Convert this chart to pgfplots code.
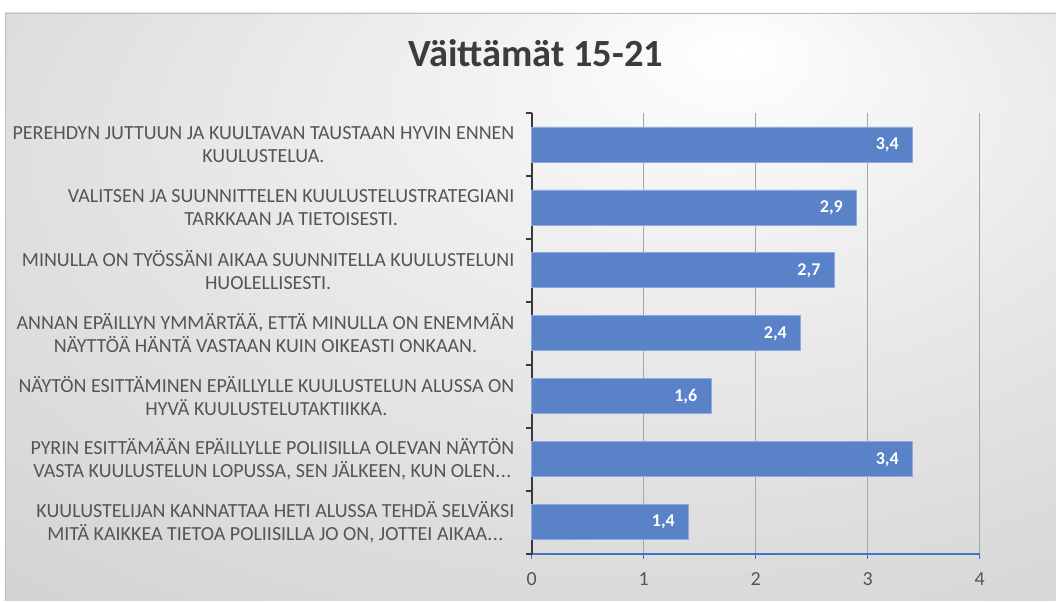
\documentclass[border=0pt]{standalone}
\usepackage{fontspec}
\setmainfont{Carlito}
\usepackage{pgfplots}
\pgfplotsset{compat=1.18}
\definecolor{barblue}{HTML}{5A82C8}
\definecolor{baredge}{HTML}{8FAADC}
\definecolor{axblue}{HTML}{4472C4}
\definecolor{txtgray}{HTML}{555555}
\definecolor{ttlgray}{HTML}{3C3C3C}
\definecolor{gridgray}{HTML}{A6A6A6}
\definecolor{yaxis}{HTML}{3A3A3A}
\definecolor{bgA}{HTML}{F3F3F3}
\definecolor{bgB}{HTML}{E1E1E1}
\definecolor{bgC}{HTML}{D2D2D2}
\definecolor{bgD}{HTML}{C8C8C8}
\pgfdeclareradialshading{chartbg}{\pgfpoint{10bp}{22bp}}{color(0bp)=(white); color(10bp)=(bgA); color(28bp)=(bgB); color(45bp)=(bgC); color(70bp)=(bgD)}
\pgfkeys{/pgf/number format/assume math mode=true}
\newcommand{\elli}{.\kern0.5pt.\kern0.5pt.}
\pgfplotstableread{
y val
0 1.4
1 3.4
2 1.6
3 2.4
4 2.7
5 2.9
6 3.4
}\datatable
\begin{document}
\begin{tikzpicture}[x=1bp,y=1bp]
\fill[white] (0,0) rectangle (1056,601);
\shade[shading=chartbg] (5,0) rectangle (1056,588);
\draw[color=black!25, line width=0.8bp] (5,0) -- (5,588) -- (1056,588);
\node[anchor=base, font=\fontsize{38.5bp}{42bp}\selectfont\bfseries, text=ttlgray] at (536,534) {Väittämät 15-21};
\begin{axis}[
  at={(532bp,47bp)}, anchor=south west,
  scale only axis, width=448bp, height=441bp,
  xmin=0, xmax=4, ymin=-0.5, ymax=6.5,
  xbar, bar width=35bp,
  axis x line*=bottom, axis y line*=left,
  x axis line style={color=axblue, line width=1.5bp},
  y axis line style={color=yaxis, line width=2.4bp},
  xtick={0,1,2,3,4},
  ytick={0,1,2,3,4,5,6},
  minor ytick={-0.5,0.5,1.5,2.5,3.5,4.5,5.5,6.5},
  tick align=outside,
  major tick length=5bp, minor tick length=6bp,
  every major x tick/.append style={color=axblue, line width=1.2bp},
  every major y tick/.append style={draw=none},
  every minor y tick/.append style={color=yaxis, line width=2.2bp},
  xmajorgrids,
  major x grid style={color=gridgray, line width=1.2bp},
  ticklabel style={font=\fontsize{20bp}{23bp}\selectfont, text=txtgray},
  xticklabel style={yshift=-10bp},
  yticklabel style={align=center, xshift=-9bp},
  yticklabels={
    {KUULUSTELIJAN KANNATTAA HETI ALUSSA TEHDÄ SELVÄKSI\\MITÄ KAIKKEA TIETOA POLIISILLA JO ON, JOTTEI AIKAA\elli},
    {PYRIN ESITTÄMÄÄN EPÄILLYLLE POLIISILLA OLEVAN NÄYTÖN\\VASTA KUULUSTELUN LOPUSSA, SEN JÄLKEEN, KUN OLEN\elli},
    {NÄYTÖN ESITTÄMINEN EPÄILLYLLE KUULUSTELUN ALUSSA ON\\HYVÄ KUULUSTELUTAKTIIKKA.},
    {ANNAN EPÄILLYN YMMÄRTÄÄ, ETTÄ MINULLA ON ENEMMÄN\\NÄYTTÖÄ HÄNTÄ VASTAAN KUIN OIKEASTI ONKAAN.},
    {MINULLA ON TYÖSSÄNI AIKAA SUUNNITELLA KUULUSTELUNI\\HUOLELLISESTI.},
    {VALITSEN JA SUUNNITTELEN KUULUSTELUSTRATEGIANI\\TARKKAAN JA TIETOISESTI.},
    {PEREHDYN JUTTUUN JA KUULTAVAN TAUSTAAN HYVIN ENNEN\\KUULUSTELUA.}
  },
  point meta=x,
  nodes near coords={\pgfmathprintnumber[fixed,fixed zerofill,precision=1,use comma]{\pgfplotspointmeta}},
  nodes near coords style={anchor=east, xshift=-10bp, text=white, font=\fontsize{18bp}{20bp}\selectfont\bfseries},
  clip=false,
]
\addplot[fill=barblue, draw=baredge, line width=0.8bp] table[x=val, y=y] {\datatable};
\end{axis}
\end{tikzpicture}
\end{document}
